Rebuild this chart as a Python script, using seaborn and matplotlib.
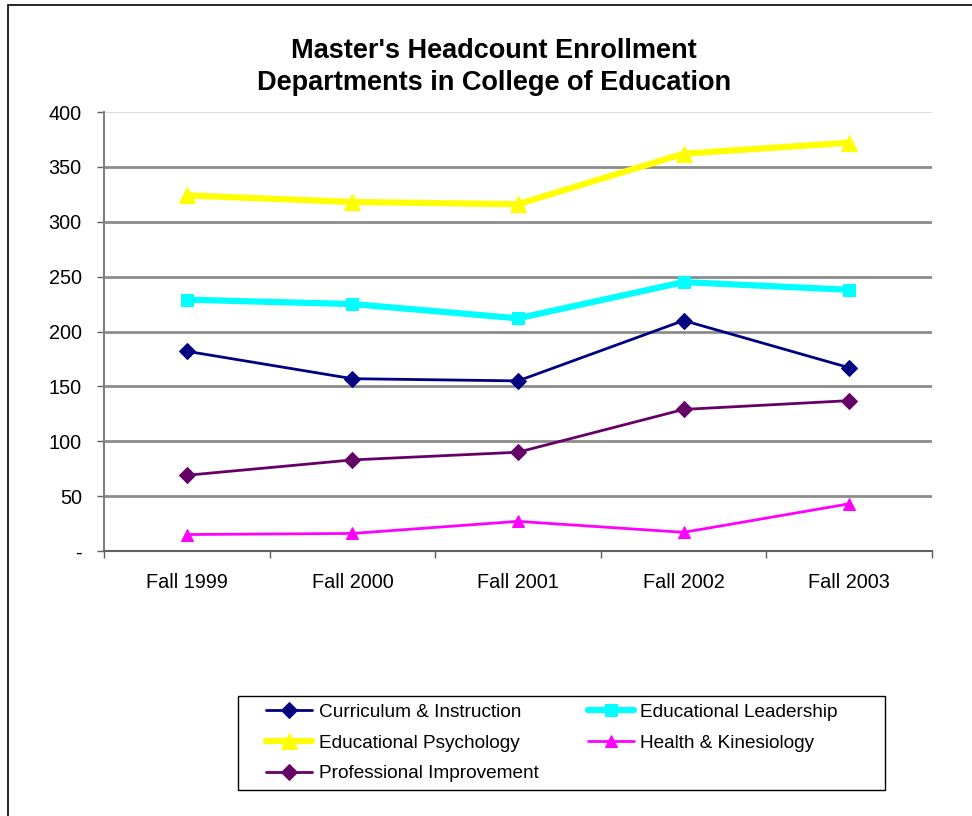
import matplotlib
matplotlib.use("Agg")
import matplotlib.pyplot as plt
import seaborn as sns
import pandas as pd
from matplotlib.patches import Rectangle

categories = ["Fall 1999", "Fall 2000", "Fall 2001", "Fall 2002", "Fall 2003"]
curriculum = [182, 157, 155, 210, 167]
leadership = [229, 225, 212, 245, 238]
psychology = [324, 318, 316, 362, 372]
health = [15, 16, 27, 17, 43]
professional = [69, 83, 90, 129, 137]
y_ticks = [0, 50, 100, 150, 200, 250, 300, 350, 400]
y_tick_labels = ["-", "50", "100", "150", "200", "250", "300", "350", "400"]

series = [
    ("Curriculum & Instruction", curriculum, "#000080", "D", 8, 2.0),
    ("Educational Leadership", leadership, "#00FFFF", "s", 9, 4.5),
    ("Educational Psychology", psychology, "#FFFF00", "^", 12, 4.5),
    ("Health & Kinesiology", health, "#FF00FF", "^", 9, 2.0),
    ("Professional Improvement", professional, "#660066", "D", 8, 2.0),
]

sns.set_theme(style="white")
plt.rcParams["font.family"] = ["Liberation Sans", "DejaVu Sans"]
plt.rcParams["text.color"] = "black"
plt.rcParams["xtick.color"] = "black"
plt.rcParams["ytick.color"] = "black"

fig = plt.figure(figsize=(9.72, 8.16), dpi=100)
ax = fig.add_axes([104 / 972, 1 - 551 / 816, (932 - 104) / 972, (551 - 112) / 816])

for name, vals, color, marker, ms, lw in series:
    df = pd.DataFrame({"x": list(range(len(categories))), "y": vals})
    sns.lineplot(data=df, x="x", y="y", ax=ax, color=color, marker=marker,
                 markersize=ms, linewidth=lw, markeredgecolor=color, label=name,
                 zorder=3)

ax.get_legend().remove()
hl, lb = ax.get_legend_handles_labels()
hmap = dict(zip(lb, hl))

ax.set_xlim(-0.5, len(categories) - 0.5)
ax.set_ylim(0, 400)
ax.set_xticks(range(len(categories)))
ax.set_xticklabels(categories)
ax.set_xticks([i - 0.5 for i in range(len(categories) + 1)], minor=True)
ax.tick_params(axis="x", which="major", length=0, pad=16, labelsize=14.3, labelcolor="black")
ax.tick_params(axis="x", which="minor", length=5, width=1, color="#606060", direction="out", bottom=True)
ax.set_yticks(y_ticks)
ax.set_yticklabels(y_tick_labels)
ax.tick_params(axis="y", which="major", length=5, width=1, color="#606060", direction="out",
               left=True, pad=11, labelsize=14.3, labelcolor="black")
ax.set_xlabel("")
ax.set_ylabel("")

for v in y_ticks[1:-1]:
    ax.axhline(v, color="#8c8c8c", linewidth=2, zorder=1)
ax.axhline(400, color="#dddddd", linewidth=1.5, zorder=1)

for s in ["top", "right"]:
    ax.spines[s].set_visible(False)
ax.spines["left"].set_color("#808080")
ax.spines["left"].set_linewidth(1.5)
ax.spines["bottom"].set_color("#606060")
ax.spines["bottom"].set_linewidth(1.5)

fig.text(494 / 972, 1 - 66.5 / 816, "Master's Headcount Enrollment\nDepartments in College of Education",
         ha="center", va="center", fontsize=19.5, fontweight="bold", linespacing=1.3, color="black")

order = ["Curriculum & Instruction", "Educational Psychology", "Professional Improvement",
         "Educational Leadership", "Health & Kinesiology"]
leg = fig.legend([hmap[o] for o in order], order, ncol=2, loc="center",
                 bbox_to_anchor=(552 / 972, 1 - 743 / 816), fontsize=13.7,
                 frameon=False, handlelength=2.4,
                 handletextpad=0.35, columnspacing=2.6, labelspacing=0.7,
                 borderpad=0.3)
for t in leg.get_texts():
    t.set_color("black")

fig.patches.append(Rectangle((238 / 972, 1 - 790 / 816), (885 - 238) / 972, (790 - 696) / 816,
                             transform=fig.transFigure, fill=False, edgecolor="black",
                             linewidth=1.0, zorder=0))

fig.patches.append(Rectangle((8 / 972, -0.05), 1.2, 1 - 5 / 816 + 0.05, transform=fig.transFigure,
                             fill=False, edgecolor="black", linewidth=1.2, zorder=0))

fig.savefig("out.png", dpi=100)
